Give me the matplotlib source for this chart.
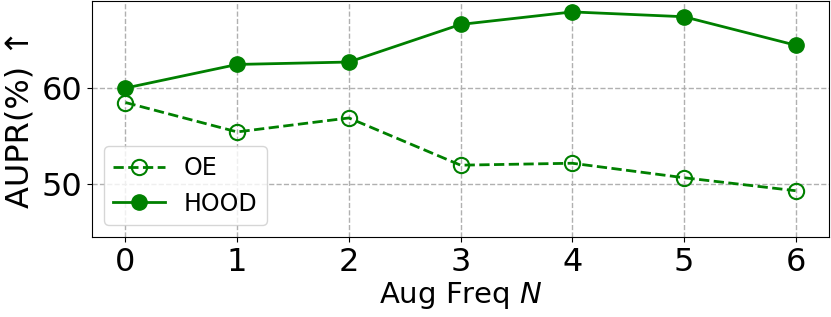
import matplotlib
matplotlib.use("Agg")
import matplotlib.pyplot as plt

# DATA
aug_freq = [0, 1, 2, 3, 4, 5, 6]
oe_aupr = [58.45, 55.4, 56.85, 51.95, 52.15, 50.65, 49.3]
hood_aupr = [59.95, 62.4, 62.65, 66.55, 67.85, 67.35, 64.4]

GREEN = "green"

plt.rcParams.update({
    "font.family": "DejaVu Sans",
    "font.size": 23,
})

fig = plt.figure(figsize=(8.31, 3.17), dpi=100)
ax = fig.add_axes([0.1107, 0.2524, 0.887, 0.745])

ax.plot(aug_freq, oe_aupr, color=GREEN, linestyle="--", marker="o",
        markerfacecolor="none", markersize=11, linewidth=2, markeredgewidth=1.5,
        label="OE")
ax.plot(aug_freq, hood_aupr, color=GREEN, linestyle="-", marker="o",
        markersize=11, linewidth=2, label="HOOD")

ax.set_ylim(44.5, 69.0)
ax.set_yticks([50, 60])
ax.set_xticks(aug_freq)

ax.grid(True, linestyle="--", color="#b0b0b0", linewidth=1)
ax.set_axisbelow(True)

ax.set_xlabel("Aug Freq $N$", fontsize=21, labelpad=2)
ax.set_ylabel("AUPR(%) ↑", fontsize=23, labelpad=4)

ax.legend(loc="lower left", fontsize=17, handlelength=2.2)

fig.savefig("out.png", dpi=100)
